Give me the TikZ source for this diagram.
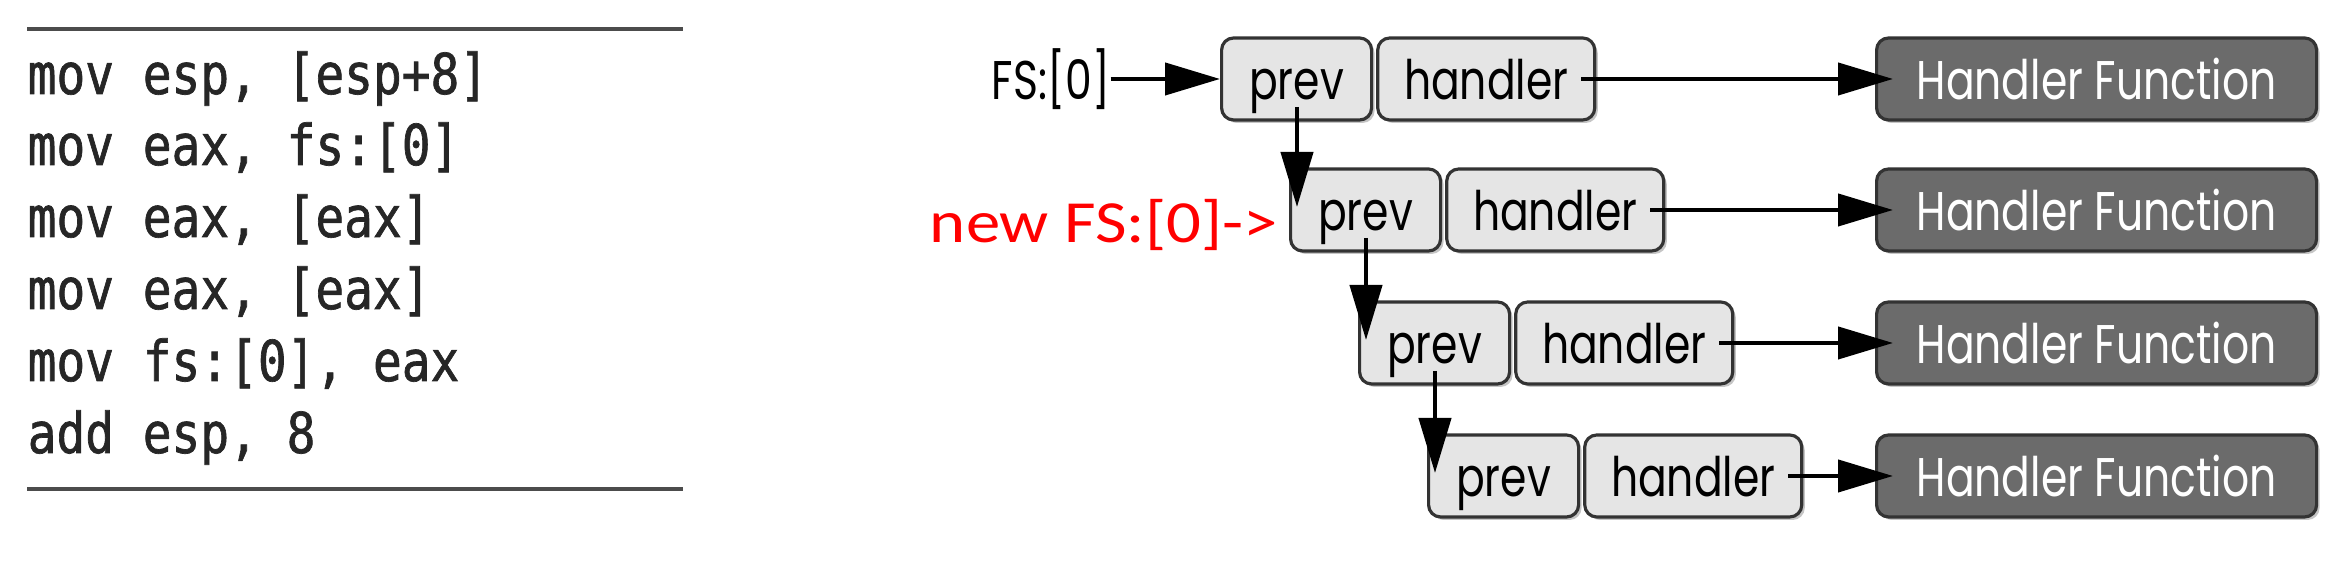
\documentclass[tikz,border=0pt]{standalone}
\usepackage{fontspec}
\usetikzlibrary{positioning,calc,arrows.meta,shadows}
\newfontfamily\boxfont[FakeStretch=0.78]{Poppins}
\newfontfamily\codefont[FakeStretch=0.85,FakeBold=1.2]{DejaVu Sans Mono}
\newfontfamily\notefont[FakeStretch=1.15]{Carlito}
\begin{document}
\begin{tikzpicture}[every node/.style={inner sep=0pt},
  txt/.style={font=\boxfont\fontsize{15.5}{18}\selectfont,text height=0.48cm,text depth=0.06cm},
  cell/.style={txt,draw=black!80,fill=black!10,rounded corners=0.12cm,line width=0.9pt,minimum height=0.82cm,
    drop shadow={shadow xshift=0.03cm,shadow yshift=-0.03cm,fill=black!45,opacity=0.5}},
  func/.style={cell,fill=black!58,text=white,minimum width=4.4cm},
  arr/.style={-{Triangle[length=0.55cm,width=0.32cm]},line width=1.2pt},
  asm/.style={font=\codefont\fontsize{16}{20}\selectfont,text=black!85,anchor=base west},
  rule/.style={line width=1.1pt,black!70}]
\useasboundingbox (0,0) rectangle (23.46,5.64);
% code listing
\draw[rule] (0.27,5.35) -- (6.83,5.35);
\draw[rule] (0.27,0.75) -- (6.83,0.75);
\node[asm] (l1) at (0.27,4.70) {mov esp, [esp+8]};
\node[asm] (l2) at (0.27,3.99) {mov eax, fs:[0]};
\node[asm] (l3) at (0.27,3.27) {mov eax, [eax]};
\node[asm] (l4) at (0.27,2.55) {mov eax, [eax]};
\node[asm] (l5) at (0.27,1.83) {mov fs:[0], eax};
\node[asm] (l6) at (0.27,1.11) {add esp, 8};
% SEH chain
\node[cell,minimum width=1.5cm,anchor=west] (p1) at (12.20,4.85) {prev};
\node[cell,minimum width=2.17cm,right=0.03cm of p1] (h1) {handler};
\node[cell,minimum width=1.5cm,anchor=west] (p2) at (12.89,3.54) {prev};
\node[cell,minimum width=2.17cm,right=0.03cm of p2] (h2) {handler};
\node[cell,minimum width=1.5cm,anchor=west] (p3) at (13.58,2.21) {prev};
\node[cell,minimum width=2.17cm,right=0.03cm of p3] (h3) {handler};
\node[cell,minimum width=1.5cm,anchor=west] (p4) at (14.27,0.88) {prev};
\node[cell,minimum width=2.17cm,right=0.03cm of p4] (h4) {handler};
\node[func,anchor=west] (f1) at (18.75,4.85) {Handler Function};
\node[func,anchor=west] (f2) at (18.75,3.54) {Handler Function};
\node[func,anchor=west] (f3) at (18.75,2.21) {Handler Function};
\node[func,anchor=west] (f4) at (18.75,0.88) {Handler Function};
\node[txt] (fs) at (10.51,4.85) {FS:[0]};
\node[font=\notefont\fontsize{17}{20}\selectfont,text=red,anchor=base east] (newfs) at (12.78,3.21) {new FS:[0]->};
\draw[arr] (fs.east) -- (p1.west);
\draw[arr] ([xshift=-0.15cm]h1.east) -- ([xshift=0.18cm]f1.west);
\draw[arr] ([xshift=-0.15cm]h2.east) -- ([xshift=0.18cm]f2.west);
\draw[arr] ([xshift=-0.15cm]h3.east) -- ([xshift=0.18cm]f3.west);
\draw[arr] ([xshift=-0.15cm]h4.east) -- ([xshift=0.18cm]f4.west);
\draw[arr] ($(p2.west |- p1.center)+(0.08,-0.28)$) -- ($(p2.west)+(0.08,0.03)$);
\draw[arr] ($(p3.west |- p2.center)+(0.08,-0.28)$) -- ($(p3.west)+(0.08,0.03)$);
\draw[arr] ($(p4.west |- p3.center)+(0.08,-0.28)$) -- ($(p4.west)+(0.08,0.03)$);
\end{tikzpicture}
\end{document}
